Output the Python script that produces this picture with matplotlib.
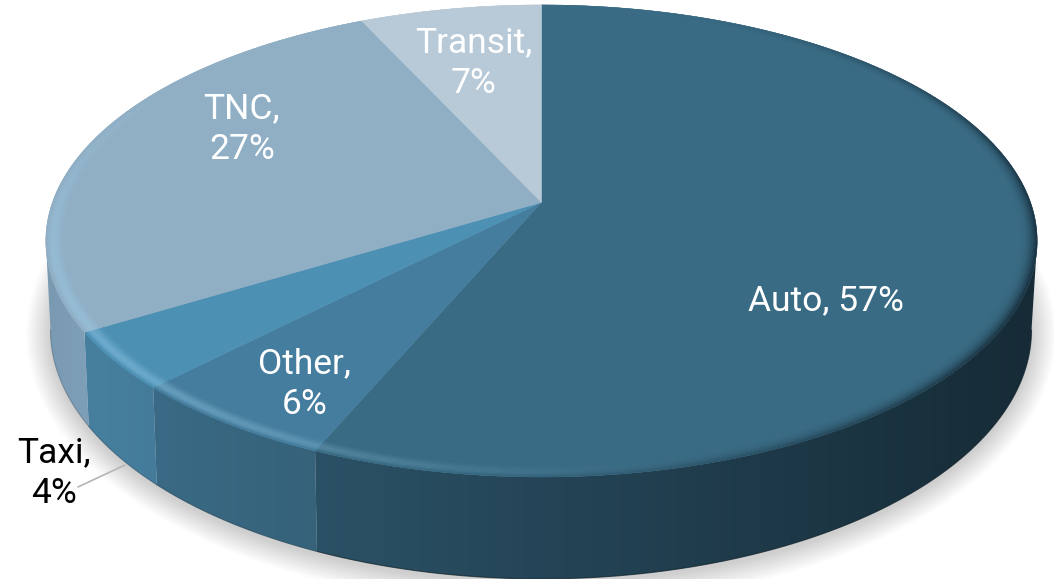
import numpy as np
import matplotlib
matplotlib.use("Agg")
import matplotlib.pyplot as plt
from matplotlib.patches import Polygon, Ellipse
from matplotlib.collections import PolyCollection
from matplotlib.colors import to_rgb

categories = ["Auto", "Other", "Taxi", "TNC", "Transit"]
values = [57, 6, 4, 27, 7]
top_colors = ["#396b84", "#457d9e", "#4c90b4", "#90afc5", "#b8cad8"]
side_left = ["#2b5166", "#3a6a85", "#47809f", "#7a9ab2", "#8aa5ba"]
side_right = ["#162b36", "#36627a", "#447b9b", "#7e9fb8", "#8aa5ba"]
text_colors = ["white", "white", "black", "white", "white"]
label_lines = [1, 2, 2, 2, 2]
label_xy = [(826, 301), (305, 384), (54, 473), (242, 129), (474, 63)]

W, H = 1054, 579
fig = plt.figure(figsize=(W / 100, H / 100), dpi=100)
ax = fig.add_axes([0, 0, 1, 1])
ax.set_xlim(0, W)
ax.set_ylim(H, 0)
ax.axis("off")
plt.rcParams["font.family"] = ["Roboto", "DejaVu Sans"]

K = 0.1634


def project(theta, r=1.0, cx=541.5, y0=202.4, A=229.7, B=489.0):
    """theta clockwise from 12 o'clock, in degrees, through a perspective."""
    t = np.radians(theta)
    u, v = r * np.sin(t), r * np.cos(t)
    w = 1 + K * v
    return cx + B * u / w, y0 - A * v / w


def project_bottom(theta):
    return project(theta, cx=541.0, y0=289.3, A=242.3, B=483.9)


def blend(c, target, a):
    c = np.array(to_rgb(c))
    return tuple(c + (np.array(target) - c) * a)


total = sum(values)
edges = np.concatenate([[0], np.cumsum(values)]) / total * 360.0

# soft shadow
for d in np.linspace(24, 0, 24):
    ax.add_patch(Ellipse((541, 334), 2 * (491 + d), 2 * (249 + d), fc="black", ec="none",
                         alpha=0.0085, zorder=1))

# extruded side, with a horizontal gradient per slice
VIS0, VIS1 = 99.4, 260.6
for i in range(len(values)):
    a0, a1 = max(edges[i], VIS0), min(edges[i + 1], VIS1)
    if a1 <= a0:
        continue
    th = np.linspace(a0, a1, 200)
    xt, yt = project(th)
    xb, yb = project_bottom(th)
    pts = np.column_stack([np.r_[xt, xb[::-1]], np.r_[yt, yb[::-1]]])
    x0, x1 = pts[:, 0].min(), pts[:, 0].max()
    ramp = np.linspace(0, 1, 256)[None, :, None]
    img = np.array(to_rgb(side_left[i]))[None, None, :] * (1 - ramp) + np.array(to_rgb(side_right[i]))[None, None, :] * ramp
    im = ax.imshow(img, extent=(x0, x1, pts[:, 1].max(), pts[:, 1].min()), aspect="auto", zorder=2, interpolation="bilinear")
    im.set_clip_path(Polygon(pts, closed=True, transform=ax.transData))
    # dark lower edge
    ax.plot(xb, yb, color=blend(side_right[i], (0, 0, 0), 0.25), lw=0.8, zorder=3, alpha=0.7)
ax.set_xlim(0, W)
ax.set_ylim(H, 0)

# top face
for i in range(len(values)):
    th = np.linspace(edges[i], edges[i + 1], 300)
    x, y = project(th)
    cx, cy = project(0.0, r=0.0)
    pts = np.column_stack([np.r_[cx, x], np.r_[cy, y]])
    ax.add_patch(Polygon(pts, closed=True, fc=top_colors[i], ec=top_colors[i], lw=0.3, zorder=4))

# bevel round the rim: light on the lower left, dark on the right
rs = np.linspace(0.962, 1.0, 11)
polys, cols = [], []
for i in range(len(values)):
    n = max(int((edges[i + 1] - edges[i]) * 2), 2)
    ths = np.linspace(edges[i], edges[i + 1], n + 1)
    for a, b in zip(ths[:-1], ths[1:]):
        mid = (a + b) / 2
        light = max(0.0, np.cos(np.radians(mid - 238))) ** 2.5
        dark = max(0.0, np.cos(np.radians(mid - 105))) ** 1.5
        for r0, r1 in zip(rs[:-1], rs[1:]):
            p = ((r0 + r1) / 2 - rs[0]) / (rs[-1] - rs[0])
            hl = np.sin(np.pi * min(p * 1.05, 1.0) ** 1.6)
            c = blend(top_colors[i], (0.62, 0.82, 0.93), 0.42 * light * hl)
            c = blend(c, (0.05, 0.10, 0.14), 0.75 * dark * p ** 2.5)
            xa, ya = project(np.array([a, b]), r=r0)
            xb_, yb_ = project(np.array([b, a]), r=r1)
            polys.append(np.column_stack([np.r_[xa, xb_], np.r_[ya, yb_]]))
            cols.append(c)
ax.add_collection(PolyCollection(polys, facecolors=cols, edgecolors=cols, linewidths=0.3, zorder=5))

# leader line for the outside label
ax.plot([125, 78], [465, 487], color="#b5b5b5", lw=1.2, zorder=6, solid_capstyle="round")

# labels
for name, val, xy, col, nl in zip(categories, values, label_xy, text_colors, label_lines):
    s = f"{name}, {val}%" if nl == 1 else f"{name},\n{val}%"
    ax.text(xy[0], xy[1], s, color=col, ha="center", va="center", fontsize=25.5,
            linespacing=1.32, zorder=7, family=["Roboto", "DejaVu Sans"])

fig.savefig("out.png", dpi=100, facecolor="white")
